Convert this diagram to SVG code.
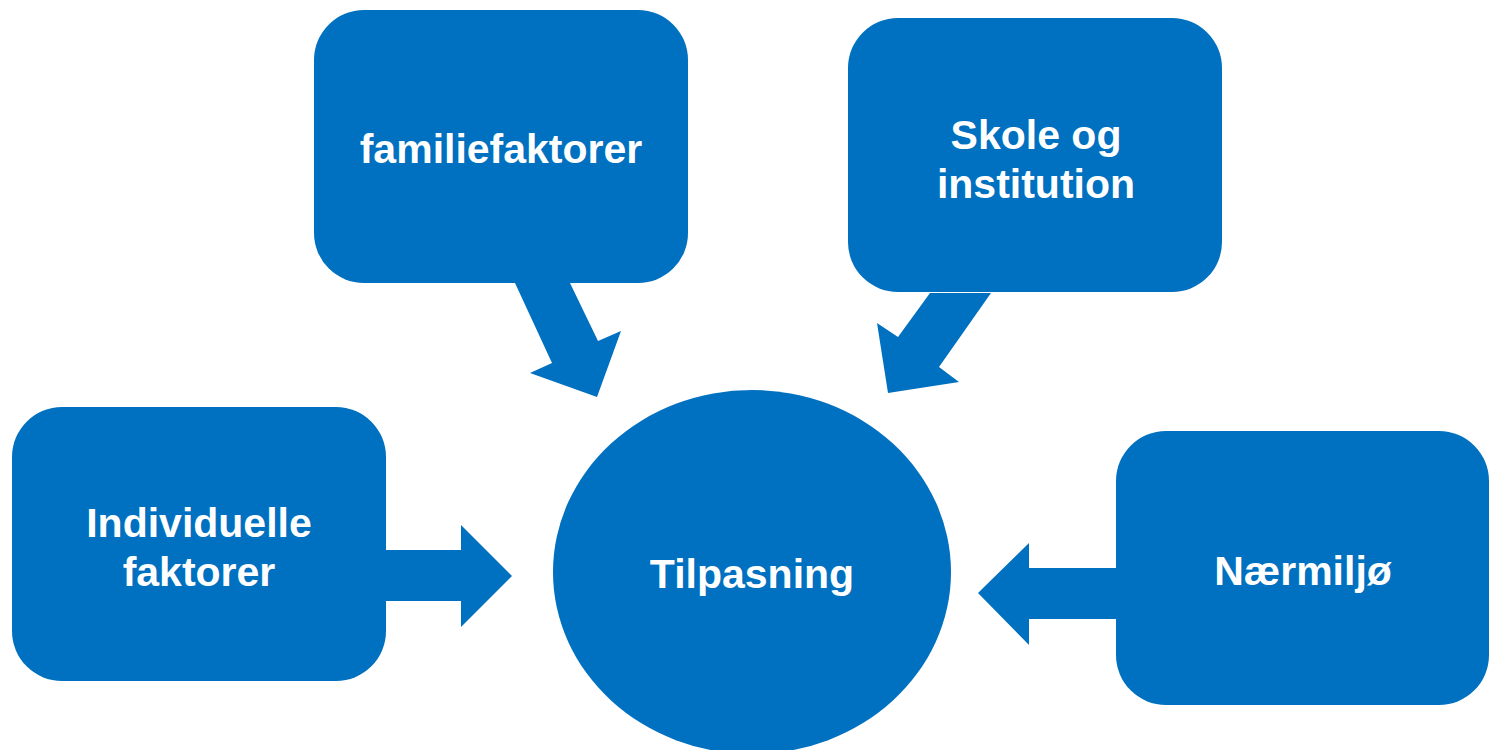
<svg xmlns="http://www.w3.org/2000/svg" width="1489" height="750" viewBox="0 0 1489 750">
<style>
.n{fill:#0070C0}
.t{fill:#fff;font-family:"Liberation Sans",Arial,sans-serif;font-weight:bold;font-size:41px;text-anchor:middle}
</style>
<rect width="1489" height="750" fill="#fff"/>
<g id="connectors" class="n">
<polygon points="515,283 570,283 598,341 621,331 597,397 530,373 552,363"/>
<polygon points="930,293 991,293 939,367 959,382 888,393 877,323 898,337"/>
<polygon points="386,550 461,550 461,525 512,576 461,627 461,601 386,601"/>
<polygon points="1116,568 1029,568 1029,543 978,593 1029,645 1029,619 1116,619"/>
</g>
<g id="familiefaktorer"><rect class="n" x="314" y="10" width="374" height="273" rx="50"/><text class="t" x="501" y="163">familiefaktorer</text></g>
<g id="skole"><rect class="n" x="848" y="18" width="374" height="274" rx="50"/><text class="t" x="1036" y="149">Skole og</text><text class="t" x="1036" y="198">institution</text></g>
<g id="individuelle"><rect class="n" x="12" y="407" width="374" height="274" rx="50"/><text class="t" x="199" y="537">Individuelle</text><text class="t" x="199" y="586">faktorer</text></g>
<g id="naermiljo"><rect class="n" x="1116" y="431" width="373" height="274" rx="50"/><text class="t" x="1303" y="585">Nærmiljø</text></g>
<g id="tilpasning"><ellipse class="n" cx="752" cy="572" rx="199" ry="182"/><text class="t" x="752" y="588">Tilpasning</text></g>
</svg>
